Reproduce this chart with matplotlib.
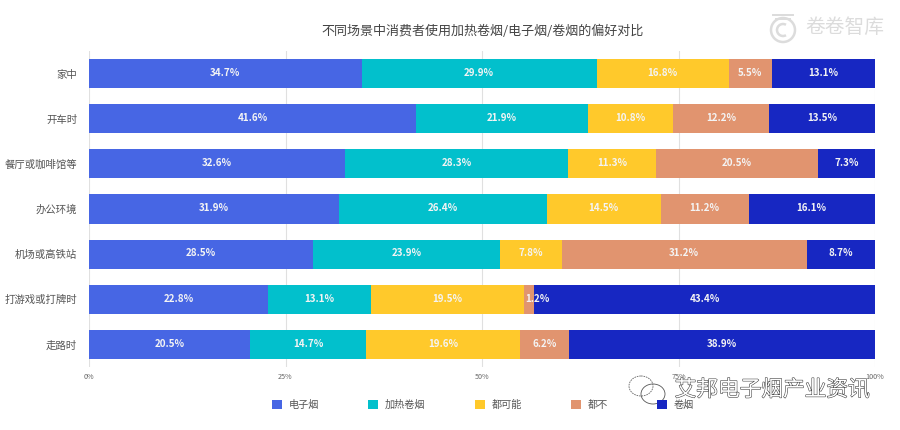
import matplotlib
matplotlib.use('Agg')
import matplotlib.pyplot as plt
import matplotlib.patheffects as pe
from matplotlib.patches import Ellipse, Arc
import numpy as np

plt.rcParams['font.family'] = ['Noto Sans CJK SC', 'DejaVu Sans']

places = ['家中', '开车时', '餐厅或咖啡馆等', '办公环境', '机场或高铁站', '打游戏或打牌时', '走路时']
names = ['电子烟', '加热卷烟', '都可能', '都不', '卷烟']
ecig = [34.7, 41.6, 32.6, 31.9, 28.5, 22.8, 20.5]
heated = [29.9, 21.9, 28.3, 26.4, 23.9, 13.1, 14.7]
either = [16.8, 10.8, 11.3, 14.5, 7.8, 19.5, 19.6]
neither = [5.5, 12.2, 20.5, 11.2, 31.2, 1.2, 6.2]
cigs = [13.1, 13.5, 7.3, 16.1, 8.7, 43.4, 38.9]
xticks = [0, 25, 50, 75, 100]

colors = ['#4766E4', '#02C0CC', '#FFC92B', '#E1946F', '#1727C2']

fig = plt.figure(figsize=(9, 4.3), dpi=100)
ax = fig.add_axes([89/900, 1-367/430, 786/900, 316/430])

y = np.arange(len(places))
series = [ecig, heated, either, neither, cigs]
totals = np.sum(series, axis=0)   # 100% stacked, rounded labels don't always add up
left = np.zeros(len(places))
for k, vals in enumerate(series):
    widths = np.array(vals) / totals * 100
    ax.barh(y, widths, left=left, height=0.645, color=colors[k], label=names[k], zorder=2)
    for i, v in enumerate(vals):
        # the 1.2% label is pushed right in the original
        dx = 6 if v < 2 else 0
        ax.annotate(f'{v}%', (left[i]+widths[i]/2, i), xytext=(dx, 0.5), textcoords='offset points',
                    ha='center', va='center', color='#f4f4f4', fontsize=7.1, fontweight='bold', zorder=3)
    left += widths

ax.set_xlim(0, 100)
ax.set_ylim(len(places)-0.5, -0.5)
ax.set_yticks(y, places)
ax.set_xticks(xticks, [f'{t}%' for t in xticks])
ax.tick_params(axis='y', length=0, pad=8.5, labelsize=7.5, labelcolor='#555555')
ax.tick_params(axis='x', length=0, pad=4.5, labelsize=5.2, labelcolor='#666666')
ax.grid(axis='x', color='#e0e0e0', lw=0.8, zorder=0)
for s in ax.spines.values():
    s.set_visible(False)

fig.text(483/900, 1-31/430, '不同场景中消费者使用加热卷烟/电子烟/卷烟的偏好对比',
         ha='center', va='center', fontsize=9.4, color='#444444')

fig.legend(loc='center', bbox_to_anchor=(483/900, 1-405/430), ncol=5, frameon=False,
           fontsize=7.3, labelcolor='#555555', handlelength=1, handleheight=1,
           handletextpad=0.65, columnspacing=4.85, borderpad=0)

# watermarks, drawn on a pixel overlay
over = fig.add_axes([0, 0, 1, 1], zorder=5)
over.set_xlim(0, 900)
over.set_ylim(430, 0)
over.axis('off')

grey = '#dcdcdc'
over.add_patch(Arc((783, 30), 24, 24, theta1=0, theta2=360, color=grey, lw=1.8))
over.add_patch(Arc((783, 30), 12, 12, theta1=60, theta2=300, color=grey, lw=1.8))
over.plot([773, 793], [15, 15], color=grey, lw=1.4)
over.plot([776, 790], [19, 19], color=grey, lw=1.4)
over.text(845, 27, '卷卷智库', ha='center', va='center', fontsize=14.2, color=grey)

over.add_patch(Ellipse((641, 386), 24, 20, fill=False, ec='#666666', lw=0.6, ls=(0, (2, 1))))
over.add_patch(Ellipse((653, 394), 24, 20, fill=False, ec='#555555', lw=0.6))
over.text(772, 390, '艾邦电子烟产业资讯', ha='center', va='center', fontsize=15.6, color='white',
          path_effects=[pe.withStroke(linewidth=0.8, foreground='#444444')])

fig.savefig('out.png', dpi=100)
